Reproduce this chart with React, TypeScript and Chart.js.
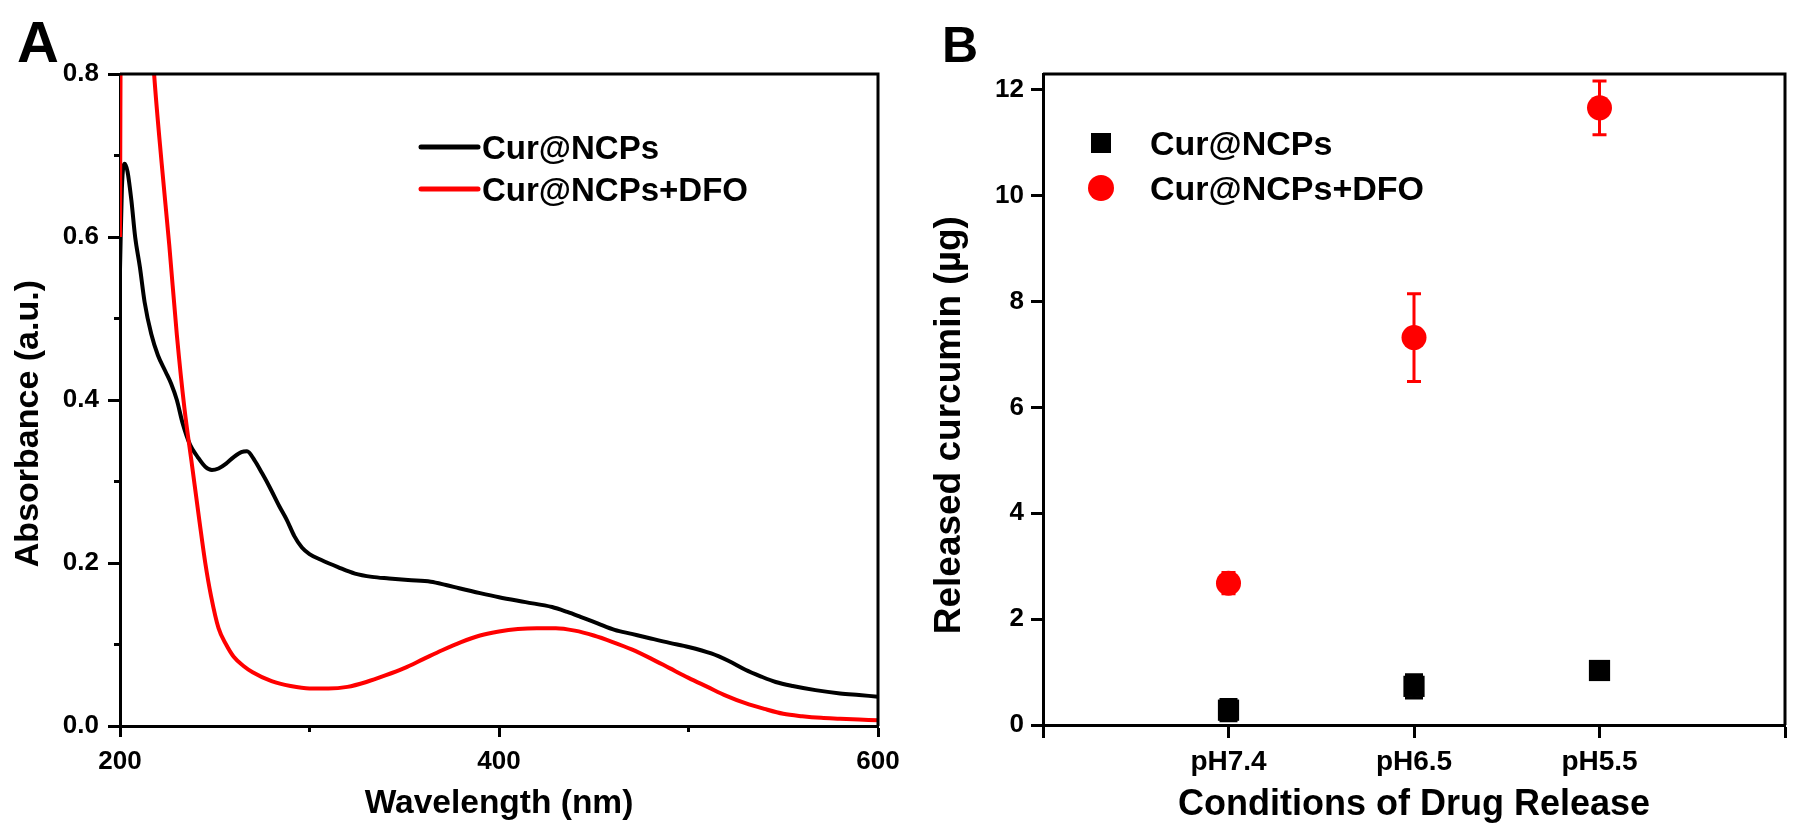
import React, { useEffect, useRef } from 'react';
import { Chart, registerables } from 'chart.js';

Chart.register(...registerables);

const FONT = "'Liberation Sans', Arial, Helvetica, sans-serif";

// ---------- Panel A data (UV-Vis spectra) ----------
const legendA = ['Cur@NCPs', 'Cur@NCPs+DFO'];
const wlBlack = [200, 201, 202.5, 204, 206, 208, 210.5, 213, 216.5, 220, 224, 227, 230, 233, 237, 241, 245, 248.5, 252, 256, 260, 264, 267, 271, 275, 279, 284, 288, 292, 296, 300, 306, 315, 324, 333, 342, 352, 364, 372, 379, 390, 400, 414, 428, 436, 443, 452, 461, 470, 479, 490, 500, 512, 521, 530, 538, 546, 555, 567, 580, 590, 600];
const absBlack = [0.56, 0.66, 0.69, 0.68, 0.645, 0.6, 0.563, 0.52, 0.481, 0.455, 0.435, 0.42, 0.4, 0.372, 0.345, 0.33, 0.318, 0.314, 0.316, 0.322, 0.33, 0.336, 0.337, 0.326, 0.31, 0.293, 0.27, 0.253, 0.233, 0.219, 0.211, 0.204, 0.195, 0.187, 0.183, 0.181, 0.179, 0.177, 0.173, 0.169, 0.163, 0.158, 0.152, 0.146, 0.14, 0.134, 0.126, 0.118, 0.113, 0.108, 0.102, 0.097, 0.089, 0.08, 0.069, 0.061, 0.054, 0.049, 0.044, 0.04, 0.038, 0.036];
const wlRed = [200, 200.6, 203, 207, 211, 214, 218, 222, 226, 230, 234, 238, 242, 245, 248, 252, 256, 260, 265, 270, 280, 290, 300, 310, 320, 330, 340, 350, 360, 370, 380, 390, 400, 410, 420, 430, 440, 450, 460, 470, 480, 490, 500, 510, 520, 530, 540, 550, 560, 570, 580, 590, 600];
const absRed = [0.6, 1.0, 1.2, 1.25, 1.15, 0.95, 0.8, 0.69, 0.59, 0.48, 0.39, 0.32, 0.25, 0.2, 0.16, 0.12, 0.1, 0.085, 0.074, 0.066, 0.055, 0.049, 0.046, 0.046, 0.048, 0.054, 0.062, 0.071, 0.082, 0.093, 0.103, 0.111, 0.116, 0.119, 0.12, 0.12, 0.117, 0.111, 0.103, 0.094, 0.083, 0.071, 0.059, 0.048, 0.037, 0.028, 0.021, 0.015, 0.012, 0.01, 0.009, 0.008, 0.007];
const xMinorA = [300, 500];
const yMinorA = [0.1, 0.3, 0.5, 0.7];

// ---------- Panel B data (released curcumin) ----------
const legendB = ['Cur@NCPs', 'Cur@NCPs+DFO'];
const categories = ['pH7.4', 'pH6.5', 'pH5.5'];
const blackVals = [0.28, 0.73, 1.03];
const blackErr = [0.2, 0.22, 0.08];
const redVals = [2.68, 7.32, 11.66];
const redErr = [0.2, 0.83, 0.51];

const framePlugin = {
  id: 'frame',
  afterDraw(chart: any) {
    const { ctx, chartArea: a } = chart;
    ctx.save();
    ctx.strokeStyle = '#000';
    ctx.lineWidth = 3;
    ctx.beginPath();
    ctx.moveTo(a.left, a.top);
    ctx.lineTo(a.right, a.top);
    ctx.lineTo(a.right, a.bottom);
    ctx.stroke();
    ctx.restore();
  },
};

const minorTicksPlugin = {
  id: 'minorTicks',
  afterDraw(chart: any, _args: any, opts: any) {
    const { ctx, chartArea: a } = chart;
    ctx.save();
    ctx.strokeStyle = '#000';
    ctx.lineWidth = 3;
    ctx.beginPath();
    (opts.x || []).forEach((v: number) => {
      const px = chart.scales.x.getPixelForValue(v);
      ctx.moveTo(px, a.bottom);
      ctx.lineTo(px, a.bottom + opts.len);
    });
    (opts.y || []).forEach((v: number) => {
      const py = chart.scales.y.getPixelForValue(v);
      ctx.moveTo(a.left, py);
      ctx.lineTo(a.left - opts.len, py);
    });
    ctx.stroke();
    ctx.restore();
  },
};

const legendPlugin = {
  id: 'customLegend',
  afterDraw(chart: any, _args: any, opts: any) {
    const { ctx } = chart;
    ctx.save();
    ctx.font = `bold ${opts.size}px ${FONT}`;
    ctx.textAlign = 'left';
    ctx.textBaseline = 'alphabetic';
    opts.items.forEach((it: any, i: number) => {
      const ds = chart.data.datasets[it.index];
      const y = opts.y + i * opts.gap;
      const color = ds.borderColor;
      if (it.type === 'line') {
        ctx.strokeStyle = color;
        ctx.lineWidth = opts.lineWidth;
        ctx.lineCap = 'round';
        ctx.beginPath();
        ctx.moveTo(opts.symX0, y);
        ctx.lineTo(opts.symX1, y);
        ctx.stroke();
      } else if (it.type === 'rect') {
        ctx.fillStyle = ds.backgroundColor;
        ctx.fillRect(opts.symX - opts.rect / 2, y - opts.rect / 2, opts.rect, opts.rect);
      } else {
        ctx.fillStyle = ds.backgroundColor;
        ctx.beginPath();
        ctx.arc(opts.symX, y, opts.circle, 0, Math.PI * 2);
        ctx.fill();
      }
      ctx.fillStyle = '#000';
      ctx.fillText(ds.label, opts.textX, y + opts.size * 0.358);
    });
    ctx.restore();
  },
};

const panelLabelPlugin = {
  id: 'panelLabel',
  afterDraw(chart: any, _args: any, opts: any) {
    const { ctx } = chart;
    ctx.save();
    ctx.font = `bold ${opts.size}px ${FONT}`;
    ctx.fillStyle = '#000';
    ctx.textAlign = 'left';
    ctx.textBaseline = 'alphabetic';
    ctx.fillText(opts.text, opts.x, opts.y);
    ctx.restore();
  },
};

const errorBarsPlugin = {
  id: 'errorBars',
  beforeDatasetsDraw(chart: any) {
    const { ctx } = chart;
    const yScale = chart.scales.y;
    chart.data.datasets.forEach((ds: any, di: number) => {
      if (!ds.errorBars) return;
      const meta = chart.getDatasetMeta(di);
      ctx.save();
      ctx.strokeStyle = ds.errorColor;
      ctx.lineWidth = 3;
      meta.data.forEach((pt: any, i: number) => {
        const v = ds.data[i];
        const e = ds.errorBars[i];
        if (v == null || e == null) return;
        const x = pt.x;
        const yt = yScale.getPixelForValue(v + e);
        const yb = yScale.getPixelForValue(v - e);
        const cw = ds.errorCap / 2;
        ctx.beginPath();
        ctx.moveTo(x, yt);
        ctx.lineTo(x, yb);
        ctx.moveTo(x - cw, yt);
        ctx.lineTo(x + cw, yt);
        ctx.moveTo(x - cw, yb);
        ctx.lineTo(x + cw, yb);
        ctx.stroke();
      });
      ctx.restore();
    });
  },
};

const tickFont = (size: number) => ({ family: FONT, size, weight: 'bold' as const });

const fixX = (h: number) => (s: any) => {
  s.height = h;
  s.paddingLeft = 0;
  s.paddingRight = 0;
};

function configA(): any {
  return {
    type: 'line',
    data: {
      datasets: [
        {
          label: legendA[1],
          data: wlRed.map((x, i) => ({ x, y: absRed[i] })),
          borderColor: '#ff0000',
          borderWidth: 4,
          pointRadius: 0,
          cubicInterpolationMode: 'monotone',
          order: 0,
        },
        {
          label: legendA[0],
          data: wlBlack.map((x, i) => ({ x, y: absBlack[i] })),
          borderColor: '#000000',
          borderWidth: 4,
          pointRadius: 0,
          cubicInterpolationMode: 'monotone',
          order: 1,
        },
      ],
    },
    options: {
      responsive: false,
      animation: false,
      devicePixelRatio: 1,
      layout: { padding: { top: 74, right: 22, left: 0, bottom: 0 } },
      scales: {
        x: {
          type: 'linear',
          min: 200,
          max: 600,
          afterFit: fixX(106),
          ticks: { stepSize: 200, color: '#000', font: tickFont(26), padding: 9, maxRotation: 0 },
          grid: { drawOnChartArea: false, tickLength: 11, tickWidth: 3, tickColor: '#000', color: '#000' },
          border: { color: '#000', width: 3 },
          title: { display: true, text: 'Wavelength (nm)', color: '#000', font: tickFont(33.5), padding: { top: 0, bottom: 8 } },
        },
        y: {
          type: 'linear',
          min: 0,
          max: 0.8,
          afterFit: (s: any) => { s.width = 120; },
          ticks: { stepSize: 0.2, color: '#000', font: tickFont(26), padding: 9, callback: (v: any) => Number(v).toFixed(1) },
          grid: { drawOnChartArea: false, tickLength: 12, tickWidth: 3, tickColor: '#000', color: '#000' },
          border: { color: '#000', width: 3 },
          title: { display: true, text: 'Absorbance (a.u.)     ', color: '#000', font: tickFont(34), padding: { top: 8, bottom: 0 } },
        },
      },
      plugins: {
        legend: { display: false },
        tooltip: { enabled: false },
        minorTicks: { x: xMinorA, y: yMinorA, len: 6 },
        customLegend: {
          size: 33, y: 147, gap: 42, symX0: 421, symX1: 478, textX: 482, lineWidth: 5,
          items: [{ index: 1, type: 'line' }, { index: 0, type: 'line' }],
        },
        panelLabel: { text: 'A', x: 17, y: 62, size: 58 },
      },
    },
    plugins: [framePlugin, minorTicksPlugin, legendPlugin, panelLabelPlugin],
  };
}

function configB(): any {
  const labels = ['', ...categories, ''];
  return {
    type: 'line',
    data: {
      labels,
      datasets: [
        {
          label: legendB[0],
          data: [null, ...blackVals, null],
          errorBars: [null, ...blackErr, null],
          errorColor: '#000000',
          errorCap: 18,
          showLine: false,
          pointStyle: 'rect',
          pointRadius: 15,
          pointBorderWidth: 0,
          backgroundColor: '#000000',
          borderColor: '#000000',
          order: 1,
        },
        {
          label: legendB[1],
          data: [null, ...redVals, null],
          errorBars: [null, ...redErr, null],
          errorColor: '#ff0000',
          errorCap: 14,
          showLine: false,
          pointStyle: 'circle',
          pointRadius: 12.5,
          pointBorderWidth: 0,
          backgroundColor: '#ff0000',
          borderColor: '#ff0000',
          order: 0,
        },
      ],
    },
    options: {
      responsive: false,
      animation: false,
      devicePixelRatio: 1,
      layout: { padding: { top: 74, right: 4, left: 0, bottom: 0 } },
      scales: {
        x: {
          type: 'category',
          offset: false,
          afterFit: fixX(107),
          ticks: { color: '#000', font: tickFont(28), padding: 7, maxRotation: 0, autoSkip: false },
          grid: { offset: false, drawOnChartArea: false, tickLength: 13, tickWidth: 3, tickColor: '#000', color: '#000' },
          border: { color: '#000', width: 3 },
          title: { display: true, text: 'Conditions of Drug Release', color: '#000', font: tickFont(36), padding: { top: 0, bottom: 5 } },
        },
        y: {
          type: 'linear',
          min: 0,
          max: 12.3,
          afterFit: (s: any) => { s.width = 143; },
          ticks: { stepSize: 2, includeBounds: false, color: '#000', font: tickFont(26), padding: 7 },
          grid: { drawOnChartArea: false, tickLength: 12, tickWidth: 3, tickColor: '#000', color: '#000' },
          border: { color: '#000', width: 3 },
          title: { display: true, text: 'Released curcumin (µg)     ', color: '#000', font: tickFont(37), padding: { top: 28, bottom: 0 } },
        },
      },
      plugins: {
        legend: { display: false },
        tooltip: { enabled: false },
        customLegend: {
          size: 34, y: 143, gap: 45, symX: 201, textX: 250, rect: 20, circle: 13,
          items: [{ index: 0, type: 'rect' }, { index: 1, type: 'circle' }],
        },
        panelLabel: { text: 'B', x: 42, y: 62, size: 50 },
      },
    },
    plugins: [framePlugin, errorBarsPlugin, legendPlugin, panelLabelPlugin],
  };
}

function ChartCanvas({ make, left, width, height }: { make: () => any; left: number; width: number; height: number }) {
  const ref = useRef<HTMLCanvasElement>(null);
  useEffect(() => {
    const chart = new Chart(ref.current as HTMLCanvasElement, make());
    return () => chart.destroy();
  }, []);
  return (
    <canvas
      ref={ref}
      width={width}
      height={height}
      style={{ position: 'absolute', left, top: 0, width, height, display: 'block' }}
    />
  );
}

export default function App() {
  return (
    <div style={{ position: 'absolute', left: 0, top: 0, width: 1800, height: 832, background: '#ffffff', overflow: 'hidden' }}>
      <ChartCanvas make={configA} left={0} width={900} height={832} />
      <ChartCanvas make={configB} left={900} width={900} height={832} />
    </div>
  );
}
